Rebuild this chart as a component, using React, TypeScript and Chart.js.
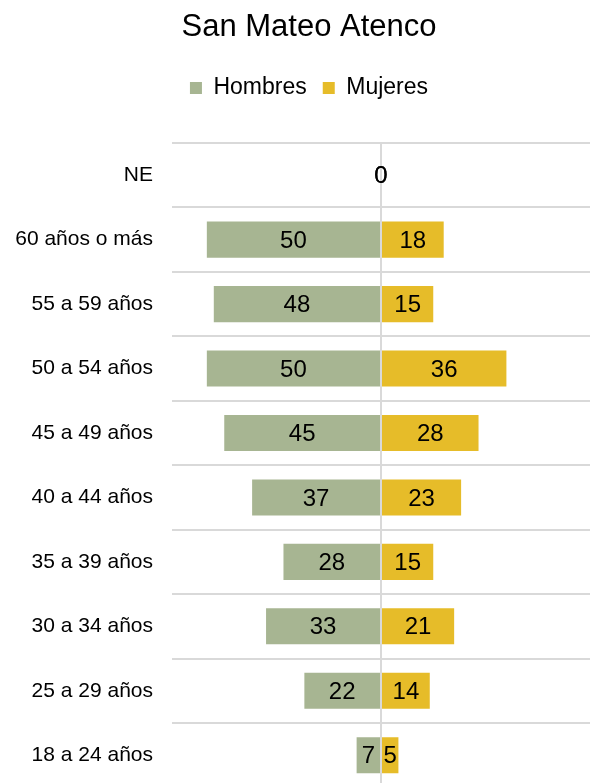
import React, { useEffect, useRef } from "react";
import { Chart, registerables } from "chart.js";

Chart.register(...registerables);

const categories = [
  "NE",
  "60 años o más",
  "55 a 59 años",
  "50 a 54 años",
  "45 a 49 años",
  "40 a 44 años",
  "35 a 39 años",
  "30 a 34 años",
  "25 a 29 años",
  "18 a 24 años",
];
const hombres = [0, 50, 48, 50, 45, 37, 28, 33, 22, 7];
const mujeres = [0, 18, 15, 36, 28, 23, 15, 21, 14, 5];

const FONT = "'Liberation Sans', Arial, sans-serif";
const GREEN = "#A7B592";
const YELLOW = "#E6BC29";
const GRID = "#D9D9D9";

const labelPlugin = {
  id: "barValueLabels",
  afterDraw(chart: any) {
    const ctx = chart.ctx;
    ctx.save();
    ctx.font = `24px ${FONT}`;
    ctx.fillStyle = "#000";
    ctx.textAlign = "center";
    ctx.textBaseline = "middle";
    chart.data.datasets.forEach((ds: any, di: number) => {
      const meta = chart.getDatasetMeta(di);
      meta.data.forEach((bar: any, i: number) => {
        const v = ds.rawValues[i];
        const cx = (bar.x + bar.base) / 2;
        ctx.fillText(String(v), cx, bar.y + 1.5);
      });
    });
    ctx.restore();
  },
};

export default function App() {
  const ref = useRef<HTMLCanvasElement>(null);
  useEffect(() => {
    if (!ref.current) return;
    const chart = new Chart(ref.current, {
      type: "bar",
      data: {
        labels: categories,
        datasets: [
          {
            label: "Hombres",
            data: hombres.map((v) => -v),
            rawValues: hombres,
            backgroundColor: GREEN,
            borderWidth: 0,
            categoryPercentage: 1,
            barPercentage: 0.56,
          } as any,
          {
            label: "Mujeres",
            data: mujeres,
            rawValues: mujeres,
            backgroundColor: YELLOW,
            borderWidth: 0,
            categoryPercentage: 1,
            barPercentage: 0.56,
          } as any,
        ],
      },
      options: {
        indexAxis: "y",
        responsive: false,
        animation: false,
        devicePixelRatio: 1,
        layout: { padding: { left: 28, right: 0, top: 0, bottom: 0 } },
        plugins: {
          title: {
            display: true,
            text: "San Mateo Atenco",
            color: "#000",
            font: { family: FONT, size: 31, weight: "normal" },
            padding: { top: 9, bottom: 14.3 },
          },
          legend: {
            display: true,
            position: "top",
            labels: {
              color: "#000",
              font: { family: FONT, size: 23 },
              boxWidth: 12,
              boxHeight: 12,
              padding: 16,
            },
          },
          tooltip: { enabled: false },
        },
        scales: {
          x: {
            position: "top",
            stacked: true,
            min: -60,
            max: 60,
            ticks: { display: false, stepSize: 10 },
            border: { display: false },
            grid: {
              z: 1,
              drawTicks: false,
              lineWidth: 2,
              color: (c: any) => (c.tick && c.tick.value === 0 ? GRID : "rgba(0,0,0,0)"),
            },
            afterFit: (s: any) => {
              s.height = 33.5;
            },
          },
          y: {
            stacked: true,
            border: { display: false },
            grid: { drawTicks: false, lineWidth: 2, color: GRID, offset: true },
            ticks: {
              color: "#000",
              font: { family: FONT, size: 21 },
              padding: 19,
            },
            afterFit: (s: any) => {
              s.width = 144;
              s._computeLabelArea = () => undefined;
            },
          },
        },
      } as any,
      plugins: [labelPlugin],
    });
    return () => chart.destroy();
  }, []);
  return (
    <div
      style={{
        position: "fixed",
        left: 0,
        top: 0,
        width: 590,
        height: 783,
        overflow: "hidden",
        background: "#fff",
      }}
    >
      <canvas ref={ref} width={590} height={819} style={{ display: "block" }} />
    </div>
  );
}
